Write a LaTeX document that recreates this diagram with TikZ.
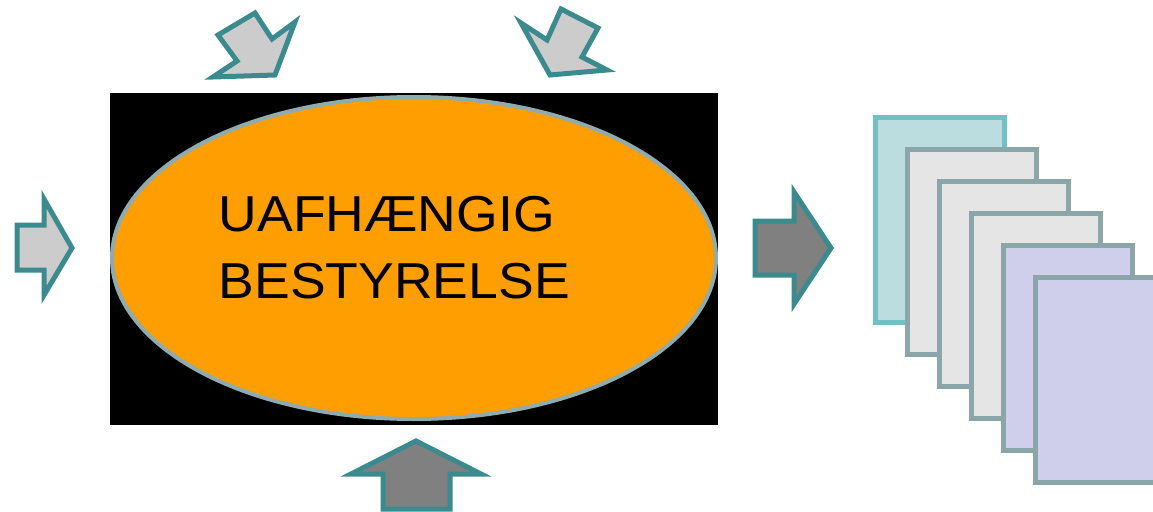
\documentclass[tikz,border=0pt]{standalone}
\usepackage{fontspec}
\setmainfont{Liberation Sans}
\definecolor{teal}{HTML}{3A8A8E}
\definecolor{lightgrey}{HTML}{CCCCCC}
\definecolor{darkgrey}{HTML}{808080}
\definecolor{boardorange}{HTML}{FF9E00}
\definecolor{rimgrey}{HTML}{8FABAE}
\definecolor{pagecyan}{HTML}{BBDDE0}
\definecolor{pagecyanrim}{HTML}{70C0C4}
\definecolor{pagegrey}{HTML}{E5E5E5}
\definecolor{pagerim}{HTML}{8BA6A8}
\definecolor{pagelilac}{HTML}{CFCFEC}
\tikzset{
  inarrow/.style={fill=lightgrey, draw=teal, line width=5pt, line join=miter},
  outarrow/.style={fill=darkgrey, draw=teal, line width=5pt, line join=miter},
  page/.style={line width=5pt},
  label/.style={anchor=base west, inner sep=0pt, xscale=1.06, font=\fontsize{50.5}{63}\selectfont}
}
\begin{document}
\begin{tikzpicture}[x=1pt,y=-1pt]
\useasboundingbox (0,0) rectangle (1153,511);
\clip (0,0) rectangle (1153,511);

% board: black panel with orange ellipse
\fill[black] (110,93) rectangle (718,425);
\draw[fill=boardorange, draw=rimgrey, line width=4pt] (414,258) ellipse [x radius=302, y radius=161];
\node[label] (line1) at (218.5,231) {UAFHÆNGIG};
\node[label] (line2) at (218.5,298) {BESTYRELSE};

% incoming arrows
\draw[inarrow] (17,225) -- (44,225) -- (44,199) -- (72,248) -- (44,295) -- (44,270) -- (17,270) -- cycle;
\draw[inarrow] (213,77) -- (237,61) -- (218,35) -- (255,13) -- (272,39) -- (295,22) -- (275,75) -- cycle;
\draw[inarrow] (521,23) -- (547,40) -- (561,9) -- (598,28) -- (582,57) -- (607,70) -- (550,75) -- cycle;
\draw[outarrow] (351,474) -- (416,441) -- (481,474) -- (450,474) -- (450,509) -- (383,509) -- (383,474) -- cycle;

% outgoing arrow
\draw[outarrow] (755,221) -- (794,221) -- (794,192) -- (831,248) -- (794,304) -- (794,275) -- (755,275) -- cycle;

% stack of pages
\draw[page, fill=pagecyan, draw=pagecyanrim] (875.5,117.5) rectangle (1004.5,322.5);
\draw[page, fill=pagegrey, draw=pagerim] (907.5,149.5) rectangle (1036.5,354.5);
\draw[page, fill=pagegrey, draw=pagerim] (939.5,181.5) rectangle (1068.5,386.5);
\draw[page, fill=pagegrey, draw=pagerim] (971.5,213.5) rectangle (1100.5,418.5);
\draw[page, fill=pagelilac, draw=pagerim] (1003.5,245.5) rectangle (1132.5,450.5);
\draw[page, fill=pagelilac, draw=pagerim] (1035.5,277.5) rectangle (1164.5,482.5);
\end{tikzpicture}
\end{document}
